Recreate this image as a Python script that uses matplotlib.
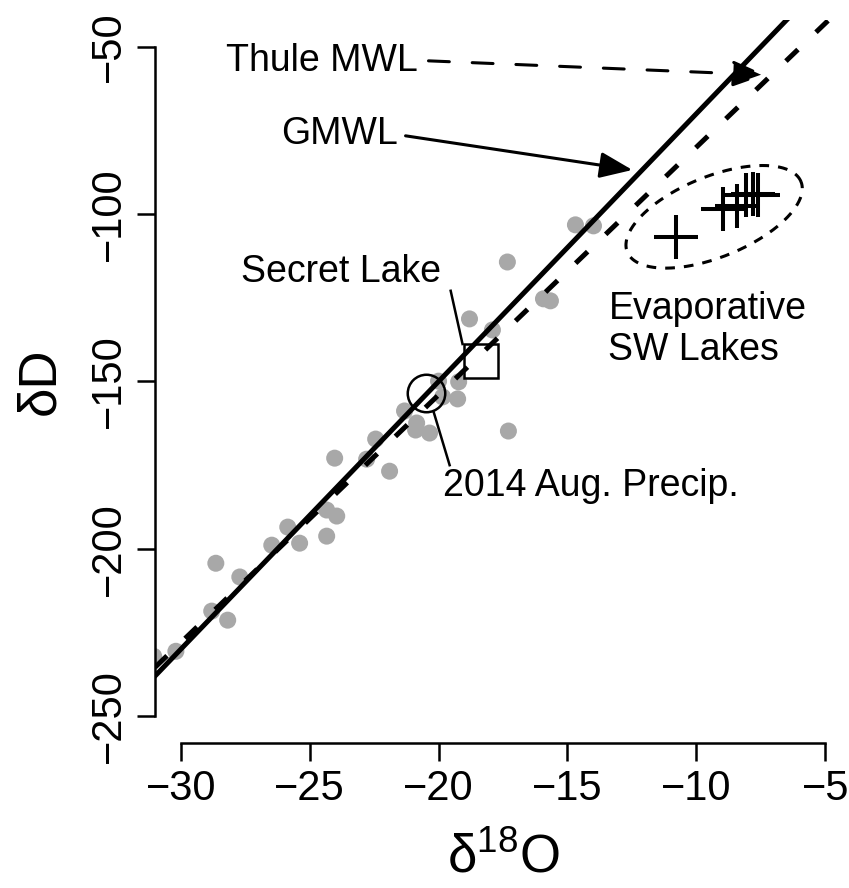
import numpy as np
import matplotlib
matplotlib.use("Agg")
import matplotlib.pyplot as plt
from matplotlib.patches import FancyArrowPatch

plt.rcParams['font.family'] = ['Liberation Sans', 'DejaVu Sans']
plt.rcParams['mathtext.fontset'] = 'custom'
plt.rcParams['mathtext.rm'] = 'Liberation Sans'
plt.rcParams['mathtext.default'] = 'regular'
plt.rcParams['lines.scale_dashes'] = False

# precipitation samples (grey dots)
precip_d18o = [-31.05, -30.19, -28.64, -27.71, -28.80, -28.18, -26.47, -25.85,
               -25.39, -24.34, -24.34, -23.95, -24.03, -22.79, -22.44, -21.90,
               -21.32, -20.85, -20.89, -20.35, -20.00, -19.22, -19.84, -19.26,
               -17.29, -18.80, -17.91, -17.33, -15.93, -15.66, -14.69, -13.99]
precip_dD = [-232.1, -230.6, -204.3, -208.4, -218.6, -221.3, -198.9, -193.5,
             -198.3, -196.2, -188.4, -190.2, -172.9, -173.2, -167.2, -176.8,
             -158.8, -162.4, -164.5, -165.4, -149.9, -150.1, -154.6, -155.2,
             -164.8, -131.3, -134.6, -114.3, -125.3, -125.9, -103.2, -103.5]

# evaporative SW lakes (crosses)
lakes_d18o = [-10.78, -8.97, -8.42, -8.06, -7.80, -7.59]
lakes_dD = [-106.9, -98.4, -97.5, -94.4, -93.9, -94.4]

secret_lake = (-18.37, -144.0)
aug_precip = (-20.50, -153.4)

# meteoric water lines: slope, intercept
gmwl = (8.0, 10.0)
thule_mwl = (7.4, -6.0)

# ellipse round the lakes: centre, two semi-diameters (data units)
ell_centre = (-9.31, -100.8)
ell_u = (3.37, 10.50)
ell_v = (-0.585, 11.17)

fig = plt.figure(figsize=(8.49, 8.88), dpi=100)
ax = fig.add_axes([155/849, 145/888, 696/849, 723/888])
ax.set_xlim(-31, -4)
ax.set_ylim(-258, -42)

ax.scatter(precip_d18o, precip_dD, s=150, color='#a8a8a8', edgecolors='none', zorder=2)
ax.axline((0, gmwl[1]), slope=gmwl[0], color='black', lw=3.6, zorder=3)
ax.axline((0, thule_mwl[1]), slope=thule_mwl[0], color='black', lw=3.6,
          linestyle=(0, (12, 18)), zorder=3)

ax.plot(*secret_lake, marker='s', ms=25, mfc='none', mec='black', mew=1.8, zorder=4)
ax.plot(*aug_precip, marker='o', ms=27, mfc='none', mec='black', mew=1.8, zorder=4)
ax.plot(lakes_d18o, lakes_dD, linestyle='none', marker='+', ms=31, mec='black', mew=2.9, zorder=4)

t = np.linspace(0, 2*np.pi, 300)
ex = ell_centre[0] + ell_u[0]*np.cos(t) + ell_v[0]*np.sin(t)
ey = ell_centre[1] + ell_u[1]*np.cos(t) + ell_v[1]*np.sin(t)
ax.plot(ex, ey, color='black', lw=2.2, linestyle=(0, (7, 6.5)))

# annotations
fs = 27
ax.text(-28.26, -54.2, 'Thule MWL', fontsize=fs, ha='left', va='center')
ax.text(-26.12, -76.0, 'GMWL', fontsize=fs, ha='left', va='center')
ax.text(-27.67, -117.3, 'Secret Lake', fontsize=fs, ha='left', va='center')
ax.text(-19.84, -181.2, '2014 Aug. Precip.', fontsize=fs, ha='left', va='center')
ax.text(-13.41, -128.3, 'Evaporative', fontsize=fs, ha='left', va='center')
ax.text(-13.41, -140.6, 'SW Lakes', fontsize=fs, ha='left', va='center')

ax.add_patch(FancyArrowPatch((-20.39, -54.2), (-7.33, -58.4),
                             arrowstyle='-|>,head_length=20,head_width=8',
                             mutation_scale=1, shrinkA=0, shrinkB=0,
                             color='black', lw=2.2, linestyle=(0, (15, 16.5))))
ax.add_patch(FancyArrowPatch((-21.28, -76.6), (-12.48, -86.8),
                             arrowstyle='-|>,head_length=20,head_width=8',
                             mutation_scale=1, shrinkA=0, shrinkB=0,
                             color='black', lw=2.2))
ax.plot([-19.53, -19.07], [-122.9, -138.8], color='black', lw=1.8)
ax.plot([-20.19, -19.57], [-159.1, -175.0], color='black', lw=1.8)

# R-style detached axes
for s in ['top', 'right']:
    ax.spines[s].set_visible(False)
ax.spines['left'].set_bounds(-250, -50)
ax.spines['bottom'].set_bounds(-30, -5)
for s in ['left', 'bottom']:
    ax.spines[s].set_linewidth(1.8)
ax.set_xticks([-30, -25, -20, -15, -10, -5])
ax.set_yticks([-250, -200, -150, -100, -50])
ax.set_xticklabels(['\u221230', '\u221225', '\u221220', '\u221215', '\u221210', '\u22125'])
ax.set_yticklabels(['\u2212250', '\u2212200', '\u2212150', '\u2212100', '\u221250'],
                   rotation=90, va='center')
ax.tick_params(length=13, width=1.8, labelsize=30, pad=6)
ax.set_xlabel('δ$^{18}$O', fontsize=38, labelpad=17)
ax.set_ylabel('δD', fontsize=38, labelpad=17)

fig.savefig('out.png', dpi=100)
